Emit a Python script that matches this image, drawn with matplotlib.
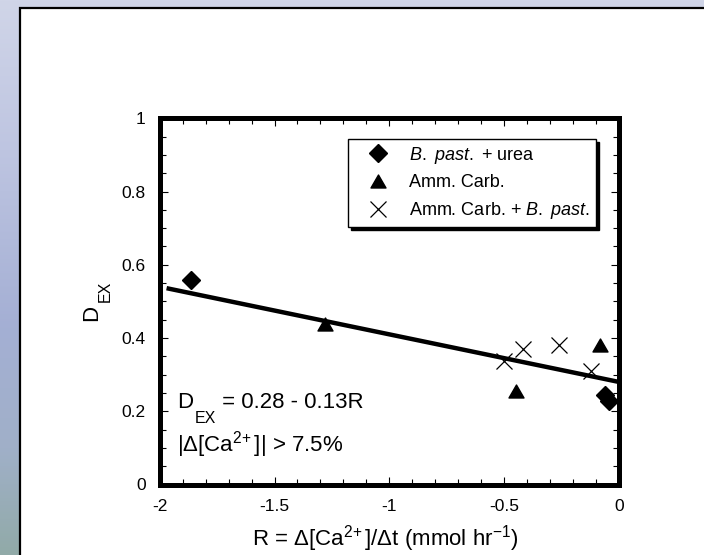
import numpy as np
import matplotlib
matplotlib.use("Agg")
import matplotlib.pyplot as plt
from matplotlib.patches import Rectangle
from matplotlib.path import Path
from matplotlib.lines import Line2D
from matplotlib.text import Annotation
from matplotlib.ticker import MultipleLocator, FuncFormatter
from matplotlib.colors import LinearSegmentedColormap

plt.rcParams["font.family"] = ["Liberation Sans", "DejaVu Sans"]
plt.rcParams["mathtext.fontset"] = "custom"
plt.rcParams["mathtext.rm"] = "Liberation Sans"
plt.rcParams["mathtext.it"] = "Liberation Sans:italic"
plt.rcParams["mathtext.bf"] = "Liberation Sans:bold"
plt.rcParams["axes.unicode_minus"] = False

# ---- data -------------------------------------------------------------
urea_R = [-1.865, -0.060, -0.045]
urea_D = [0.558, 0.244, 0.228]

carb_R = [-1.282, -0.449, -0.082]
carb_D = [0.437, 0.256, 0.382]

mixed_R = [-0.502, -0.417, -0.260, -0.123]
mixed_D = [0.337, 0.370, 0.381, 0.311]

fit_intercept = 0.28
fit_slope = -0.13
fit_R_range = [-1.97, 0.0]

series_labels = [r"$\mathit{B.}$ $\mathit{past.}$ + urea",
                 "Amm. Carb.",
                 r"Amm. Carb. + $\mathit{B.}$ $\mathit{past.}$"]

x_ticks = [-2, -1.5, -1, -0.5, 0]
y_ticks = [0, 0.2, 0.4, 0.6, 0.8, 1]

# ---- figure & slide background ---------------------------------------
W, H = 704, 555
fig = plt.figure(figsize=(W / 100, H / 100), dpi=100)

bg = fig.add_axes([0, 0, 1, 1], zorder=-10)
bg.set_axis_off()
grad_cmap = LinearSegmentedColormap.from_list(
    "slide",
    [(0.0, (145 / 255, 170 / 255, 168 / 255)),
     (0.19, (160 / 255, 176 / 255, 200 / 255)),
     (0.41, (164 / 255, 175 / 255, 212 / 255)),
     (0.73, (190 / 255, 197 / 255, 225 / 255)),
     (1.0, (208 / 255, 213 / 255, 232 / 255))])
bg.imshow(np.linspace(0, 1, 256)[:, None], cmap=grad_cmap, origin="lower",
          extent=[0, 1, 0, 1], aspect="auto")
bg.set_xlim(0, 1)
bg.set_ylim(0, 1)
panel = Rectangle((19.5 / W, -0.05), 1.0, 1 - 7.5 / H + 0.05,
                  transform=fig.transFigure, facecolor="white",
                  edgecolor="black", linewidth=1.6, clip_on=False)
bg.add_patch(panel)

# ---- plot axes --------------------------------------------------------
ax = fig.add_axes([159.7 / W, 1 - 484.5 / H, 459.3 / W, 366.2 / H])
ax.set_facecolor("white")
ax.set_xlim(-2, 0)
ax.set_ylim(0, 1)

for s in ax.spines.values():
    s.set_linewidth(3.6)
    s.set_color("black")

ax.set_xticks(x_ticks)
ax.set_yticks(y_ticks)
ax.xaxis.set_minor_locator(MultipleLocator(0.1))
ax.yaxis.set_minor_locator(MultipleLocator(0.05))
fmt = FuncFormatter(lambda v, p: f"{v:g}")
ax.xaxis.set_major_formatter(fmt)
ax.yaxis.set_major_formatter(fmt)
ax.tick_params(which="both", direction="in", top=True, right=True,
               color="black", width=0.8, labelsize=12.5)
ax.tick_params(which="major", length=6)
ax.tick_params(which="minor", length=4)
ax.tick_params(axis="x", which="major", pad=10.5)
ax.tick_params(axis="y", which="major", pad=10)

# regression line from the stated equation
fit_x = np.array(fit_R_range)
ax.plot(fit_x, fit_intercept + fit_slope * fit_x, color="black",
        linewidth=3.2, solid_capstyle="butt", zorder=2)

tri_marker = Path([(-1, -0.866), (1, -0.866), (0, 0.866), (-1, -0.866)],
                  [Path.MOVETO, Path.LINETO, Path.LINETO, Path.CLOSEPOLY])

diamond_kw = dict(linestyle="none", marker="D", markersize=9, color="black")
tri_kw = dict(linestyle="none", marker=tri_marker, markersize=10.8,
              color="black")
cross_kw = dict(linestyle="none", marker="x", markersize=12,
                markeredgewidth=0.9, color="black")

ax.plot(urea_R, urea_D, clip_on=False, zorder=3, **diamond_kw)
ax.plot(carb_R, carb_D, clip_on=False, zorder=3, **tri_kw)
ax.plot(mixed_R, mixed_D, clip_on=False, zorder=3, **cross_kw)

handles = [Line2D([], [], **diamond_kw),
           Line2D([], [], **tri_kw),
           Line2D([], [], **cross_kw)]
leg = ax.legend(handles, series_labels, loc="upper right",
                bbox_to_anchor=(596 / W, 1 - 138.8 / H),
                bbox_transform=fig.transFigure, borderaxespad=0,
                fontsize=13, frameon=True, fancybox=False,
                framealpha=1, edgecolor="black",
                shadow={"color": "black", "alpha": 1},
                borderpad=0.32, handlelength=2.68, handletextpad=0.4,
                labelspacing=0.49, numpoints=1)
leg.get_frame().set_linewidth(1.0)


# ---- equation annotation ---------------------------------------------
def text_with_sub(x, y, main, sub, rest, y_sub, fs, sub_fs):
    t1 = ax.text(x, y, main, fontsize=fs, ha="left", va="baseline")
    t2 = ax.annotate(sub, xy=(1, y_sub), xycoords=(t1, "data"),
                     xytext=(1.5, 0), textcoords="offset points",
                     fontsize=sub_fs, ha="left", va="baseline",
                     annotation_clip=False)
    ax.annotate(rest, xy=(1, y), xycoords=(t2, "data"),
                fontsize=fs, ha="left", va="baseline",
                annotation_clip=False)


text_with_sub(-1.925, 0.208, "D", "EX", " = 0.28 - 0.13R", 0.167, 16, 11.5)
ax.text(-1.925, 0.0896, r"|Δ[Ca$^{2\!+}$]| > 7.5%", fontsize=16,
        ha="left", va="baseline")

# ---- axis titles --------------------------------------------------------
fig.text(385 / W, (H - 545) / H, r"R = Δ[Ca$^{2\!+}$]/Δt (mmol hr$^{-1}$)",
         fontsize=16, ha="center", va="baseline")

yl = fig.text(96.7 / W, (H - 320.7) / H, "D", fontsize=16, rotation=90,
              rotation_mode="anchor", ha="left", va="baseline")
fig.add_artist(Annotation(
    "EX", xy=(110, 1), xycoords=("figure pixels", yl),
    xytext=(0, 1.5), textcoords="offset points", fontsize=11.5,
    rotation=90, rotation_mode="anchor", ha="left", va="baseline",
    annotation_clip=False))

fig.savefig("out.png", dpi=100)
